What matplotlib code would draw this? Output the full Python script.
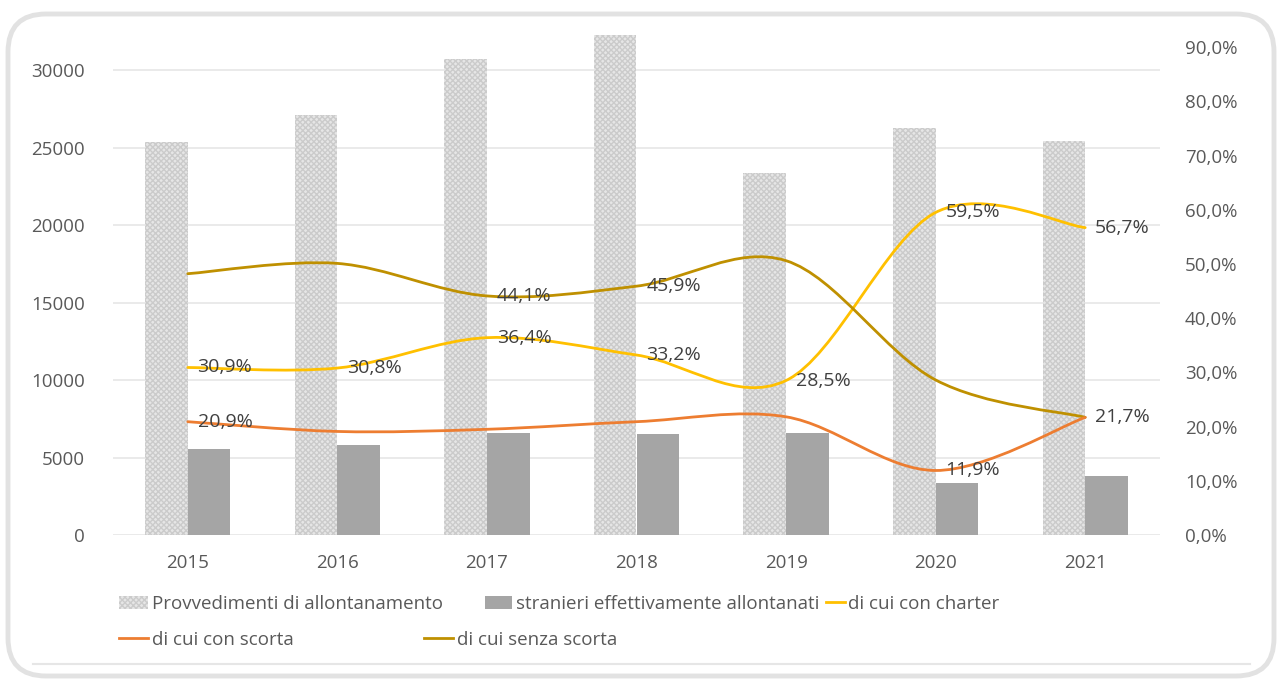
import numpy as np
import matplotlib
matplotlib.use("Agg")
import matplotlib.pyplot as plt
from matplotlib.path import Path
from matplotlib.patches import PathPatch, FancyBboxPatch, Patch
from matplotlib.lines import Line2D
from matplotlib.ticker import FuncFormatter

plt.rcParams['font.family'] = ['Open Sans', 'DejaVu Sans']

years = ["2015", "2016", "2017", "2018", "2019", "2020", "2021"]
provvedimenti = [25350, 27100, 30700, 32250, 23350, 26250, 25400]
stranieri = [5550, 5800, 6580, 6520, 6580, 3350, 3800]
charter = [30.9, 30.8, 36.4, 33.2, 28.5, 59.5, 56.7]
con_scorta = [20.9, 19.1, 19.5, 20.9, 21.8, 11.9, 21.7]
senza_scorta = [48.2, 50.1, 44.1, 45.9, 50.6, 28.6, 21.7]

charter_labels = [True] * 7
scorta_labels = [True, False, False, False, False, True, True]
senza_labels = [False, False, True, True, False, False, False]

W, H = 1284, 680
fig = plt.figure(figsize=(W / 100, H / 100), dpi=100)

x0, x1 = 113, 1160
ybot, ytop = 535, 20
ax = fig.add_axes([x0 / W, (H - ybot) / H, (x1 - x0) / W, (ybot - ytop) / H])
ax2 = ax.twinx()

x = np.arange(len(years))
bw = 0.285
ax.bar(x - bw / 2, provvedimenti, width=bw, facecolor='#e6e6e6', edgecolor='#cbcbcb',
       linewidth=0, hatch='xxxxxx', zorder=2)
ax.bar(x + bw / 2, stranieri, width=bw, color='#a5a5a5', linewidth=0, zorder=2)

ax.set_xlim(-0.5, len(years) - 0.5)
ax.set_ylim(0, 33230)
ax.set_yticks(np.arange(0, 30001, 5000))
ax.set_xticks(x)
ax.set_xticklabels(years)
ax.set_axisbelow(True)
ax.grid(axis='y', color='#e6e6e6', linewidth=1.2)
for s in ax.spines.values():
    s.set_visible(False)
for s in ax2.spines.values():
    s.set_visible(False)
ax.tick_params(axis='both', length=0, labelsize=13.5, labelcolor='#595959')
ax.tick_params(axis='y', pad=20)
ax.tick_params(axis='x', pad=14)

ax2.set_ylim(0, 95.0)
ax2.set_yticks(np.arange(0, 91, 10))
ax2.yaxis.set_major_formatter(FuncFormatter(lambda v, p: f"{v:.1f}%".replace('.', ',')))
ax2.tick_params(axis='y', length=0, labelsize=13.5, labelcolor='#595959', pad=18)


def smooth_path(xs, ys):
    pts = np.column_stack([xs, ys]).astype(float)
    n = len(pts)
    verts = [pts[0]]
    codes = [Path.MOVETO]
    for i in range(n - 1):
        p0 = pts[i - 1] if i > 0 else pts[i]
        p1 = pts[i]
        p2 = pts[i + 1]
        p3 = pts[i + 2] if i + 2 < n else pts[i + 1]
        c1 = p1 + (p2 - p0) / 6.0
        c2 = p2 - (p3 - p1) / 6.0
        verts += [c1, c2, p2]
        codes += [Path.CURVE4] * 3
    return Path(verts, codes)


series = [
    (charter, '#FFC000', charter_labels),
    (senza_scorta, '#BF9000', senza_labels),
    (con_scorta, '#ED7D31', scorta_labels),
]
for vals, col, labs in series:
    ax2.add_patch(PathPatch(smooth_path(x, vals), fill=False, edgecolor=col,
                            linewidth=2.0, capstyle='round', joinstyle='round', zorder=3))

for vals, col, labs in series:
    for xi, v, show in zip(x, vals, labs):
        if show:
            ax2.annotate(f"{v:.1f}%".replace('.', ','), (xi, v), xytext=(7, 0),
                         textcoords='offset points', ha='left', va='center',
                         fontsize=14, color='#404040', zorder=4)

# Legend entries placed individually
h_prov = Patch(facecolor='#e6e6e6', edgecolor='#cbcbcb', linewidth=0, hatch='xxxxxx')
h_str = Patch(facecolor='#a5a5a5', linewidth=0)
h_ch = Line2D([], [], color='#FFC000', linewidth=2.0)
h_sc = Line2D([], [], color='#ED7D31', linewidth=2.0)
h_se = Line2D([], [], color='#BF9000', linewidth=2.0)
entries = [
    (h_prov, "Provvedimenti di allontanamento", 119, 604, 1.55),
    (h_str, "stranieri effettivamente allontanati", 485, 604, 1.45),
    (h_ch, "di cui con charter", 826, 604, 1.0),
    (h_sc, "di cui con scorta", 119, 640, 1.55),
    (h_se, "di cui senza scorta", 424, 640, 1.55),
]
for h, lab, lx, ly, hl in entries:
    fig.legend(handles=[h], labels=[lab], loc='center left',
               bbox_to_anchor=(lx / W, 1 - ly / H), frameon=False,
               fontsize=13.5, labelcolor='#595959', handlelength=hl,
               handleheight=0.7, handletextpad=0.2, borderpad=0, borderaxespad=0)

# Outer rounded frame and inner bottom line
frame = FancyBboxPatch((8, 4), W - 16 - 2, H - 16 - 2, boxstyle="round,pad=0,rounding_size=38",
                       transform=None, facecolor='none', edgecolor='#e2e2e2',
                       linewidth=3.5, zorder=0)
fig.patches.append(frame)
fig.add_artist(Line2D([33 / W, 1250 / W], [1 - 664 / H, 1 - 664 / H],
                      color='#e6e6e6', linewidth=1.5, transform=fig.transFigure))

fig.savefig("out.png", dpi=100)
